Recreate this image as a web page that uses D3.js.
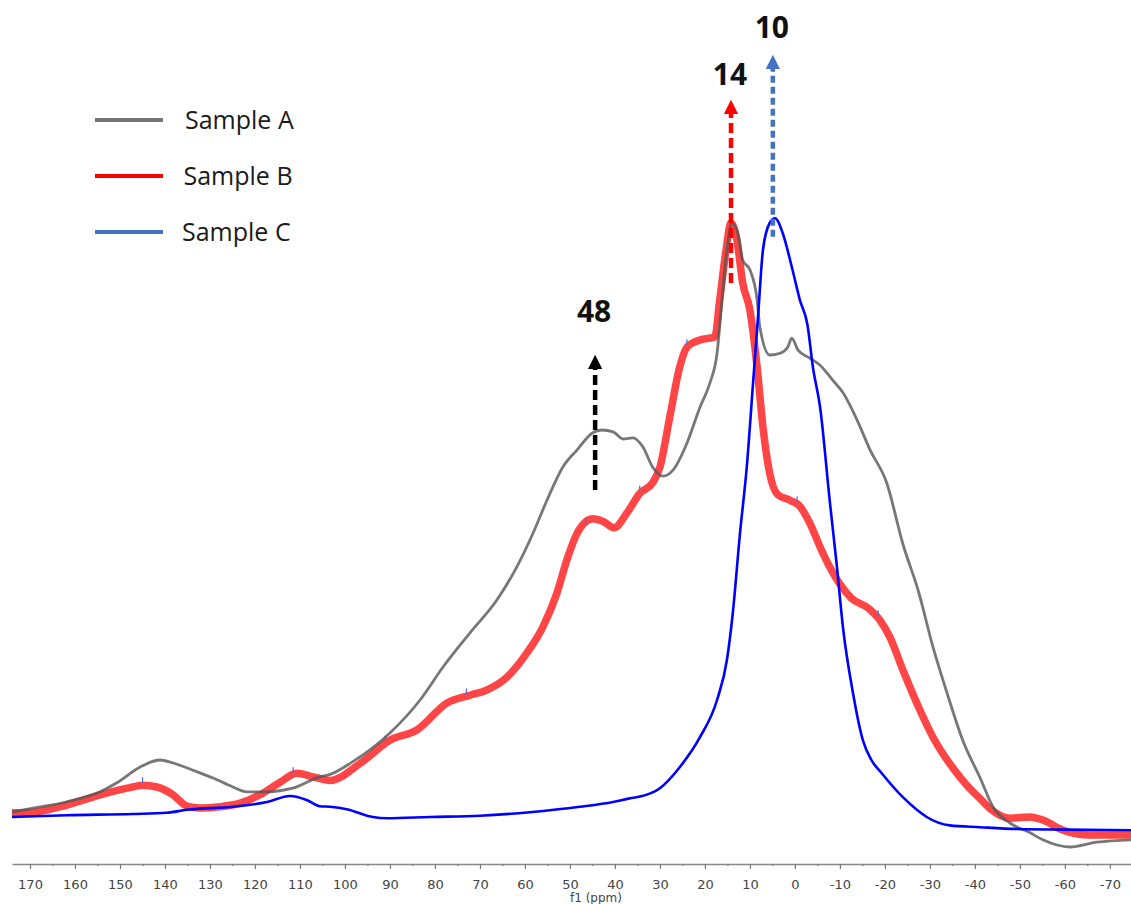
<!DOCTYPE html>
<html>
<head>
<meta charset="utf-8">
<script src="https://cdn.jsdelivr.net/npm/d3@7"></script>
<style>
  body { margin: 0; background: #fff; }
</style>
</head>
<body>
<div id="chart"></div>
<script>
// Chart size
var width = 1131;
var height = 904;

// Spectra: [chemical shift (ppm), intensity]
var sampleA = [
  [174, 1.3], [169, 2], [162, 3], [154.4, 4.7], [150.7, 6.2], [145.6, 8.8], [141.1, 10],
  [138.2, 9.5], [133.8, 8.3], [129.3, 7], [124.9, 5.5], [121.8, 4.7], [117.3, 4.7],
  [111.6, 5.3], [105.6, 7.2], [103.3, 7.6], [98.5, 9.6], [90, 14.5], [83.3, 20],
  [78.2, 25.5], [72.2, 31.2], [66.2, 36.7], [61.8, 42.2], [58.2, 47.8], [55.1, 53.3],
  [51.6, 58.8], [48.4, 61.7], [45, 64.5], [42.9, 65], [40.4, 64.7], [38.2, 63.5],
  [36, 63.7], [33.8, 62.2], [31.6, 58.8], [29.3, 57.3], [27.1, 58.3], [24, 62.8],
  [21.1, 68.8], [18.9, 72.8], [17.3, 77.8], [16.2, 86.7], [15.1, 95], [14, 99.5],
  [12.7, 97.8], [11.6, 93.3], [10, 91.7], [8.4, 86.7], [7.8, 82.2], [5.6, 77.5],
  [3.3, 77.8], [1.6, 78.8], [0.7, 80.3], [-0.7, 78.3], [-3.3, 77], [-5.6, 75.8],
  [-8.4, 73.3], [-10.7, 71.2], [-13.8, 66.7], [-16.7, 61.7], [-20.4, 56.2], [-24, 46],
  [-27.5, 38], [-30.7, 28.8], [-33.8, 21.2], [-37.3, 13.3], [-41.3, 6.8], [-44, 2.2],
  [-47.8, -0.5], [-52.2, -2.1], [-55.1, -3.3], [-61.1, -4.5], [-67.1, -3.7], [-74.7, -3.3]
];

var sampleB = [
  [174, 1.2], [169.3, 1.3], [161.8, 2.5], [154.4, 4.2], [148.4, 5.3], [144.9, 5.8],
  [141.8, 5.5], [138.2, 4.2], [135.1, 2.3], [132.2, 2], [127.8, 2.2], [123.3, 2.8],
  [118.9, 4.2], [114.4, 6.3], [110.7, 7.8], [107.1, 7.2], [103.3, 6.6], [96.5, 9.5],
  [90, 13.3], [84, 15], [77.3, 19.5], [72.2, 20.8], [68.4, 21.7], [64, 23.8],
  [59.6, 27.8], [56, 32.2], [52.9, 37.8], [50.7, 43.3], [48.4, 47.8], [44.9, 50.2],
  [42.5, 49.7], [40.2, 48.7], [37.3, 51.2], [34.4, 54.5], [31.6, 56.2], [30, 58.8],
  [27.8, 67.2], [25.6, 75.5], [24, 78.8], [21.1, 80], [17.8, 80.5], [16.7, 86.7],
  [15.3, 95], [14.2, 99.5], [12.9, 96.7], [11.6, 89.5], [10, 85], [8.4, 75.5],
  [7.1, 65.5], [5.6, 57.8], [3.8, 54.2], [1.1, 53.3], [-1.1, 52.3], [-3.3, 49.5],
  [-5.6, 45.5], [-7.5, 42.5], [-10, 39.3], [-12.5, 37], [-16.3, 35.3], [-18.9, 33.3],
  [-21.1, 30.5], [-24, 25], [-27.8, 18.3], [-30.7, 13.8], [-32.5, 11.5], [-35, 8.8],
  [-38.2, 5.8], [-41.1, 3.6], [-43.5, 1.8], [-47.8, 0.3], [-52.2, 0.5],
  [-55.1, 0], [-59.6, -1.7], [-65.6, -2.5], [-74.7, -2.5]
];

var sampleC = [
  [174, 0.5], [161.8, 0.8], [147.1, 1], [139.6, 1.2], [135.1, 1.7], [124.9, 2.2],
  [117.3, 3], [112.2, 4], [108.4, 3.3], [105.6, 2.3], [103.3, 2.2], [99.6, 1.8],
  [93.8, 0.5], [90.7, 0.3], [81.1, 0.5], [70, 0.7], [58.9, 1.3], [47.8, 2.2],
  [40.4, 3], [36.7, 3.6], [34.4, 3.9], [30, 5.3], [25.6, 8.8], [21.1, 13.8],
  [17.3, 20], [15.1, 26.7], [13.8, 34.5], [12.2, 47.8], [10.7, 58.8], [9.3, 72.8],
  [8.2, 83.8], [7.1, 95], [5.6, 99.5], [4.4, 100.3], [2.7, 97.8], [0.7, 92.2],
  [-1.1, 86.7], [-2.8, 82.5], [-4, 75.5], [-5.6, 68.8], [-7.8, 52.8], [-9.3, 42.5],
  [-10.7, 32], [-12.9, 21.2], [-15.1, 13.3], [-17, 10], [-19.3, 7.8], [-24, 3.8],
  [-27.1, 1.7], [-29.3, 0.5], [-34.4, -0.9], [-41.1, -1.2], [-49.3, -1.5],
  [-60, -1.6], [-74.7, -1.7]
];

// Peak-pick markers on Sample B (ppm)
var markersB = [145, 111.5, 91, 73, 46.5, 34.5, 24, -0.5, -18.5];

// Legend and annotations
var legendNames = ["Sample A", "Sample B", "Sample C"];
var legendColors = ["#767676", "#ff0000", "#4472c4"];
var arrowLabels = ["48", "14", "10"];
var arrowPpm = [44.4, 14.2, 4.9];
var arrowFrom = [55, 89.5, 97.2];
var arrowTo = [77.5, 120, 127.5];
var arrowLabelY = [83, 122.5, 130.3];
var arrowColors = ["#000000", "#ff0000", "#4472c4"];
var arrowDash = ["10,5", "10,5", "7,4"];

// Axis ticks
var majorTicks = d3.range(170, -71, -10);
var minorTicks = d3.range(165, -71, -10);

var svg = d3.select("#chart")
  .append("svg")
  .attr("width", width)
  .attr("height", height)
  .style("font-family", "'Open Sans', sans-serif");

// Scales
var xScale = d3.scaleLinear()
  .domain([174, -74.7])
  .range([12, 1131]);

var yScale = d3.scaleLinear()
  .domain([0, 100])
  .range([820, 220]);

var axisY = 864;

// Minor ticks
svg.append("g")
  .attr("transform", "translate(0," + axisY + ")")
  .call(d3.axisBottom(xScale).tickValues(minorTicks).tickSize(2).tickSizeOuter(0).tickFormat(""))
  .call(function (g) { g.select(".domain").remove(); })
  .selectAll("line")
  .attr("stroke", "#777")
  .attr("stroke-width", 1.5);

// Major ticks + labels (plain hyphen for negatives)
var xAxis = svg.append("g")
  .attr("transform", "translate(0," + axisY + ")")
  .call(d3.axisBottom(xScale)
    .tickValues(majorTicks)
    .tickSize(5)
    .tickSizeOuter(0)
    .tickPadding(11)
    .tickFormat(function (d) { return String(d); }));

xAxis.select(".domain")
  .attr("stroke", "#888")
  .attr("stroke-width", 1.5);
xAxis.selectAll(".tick line")
  .attr("stroke", "#777")
  .attr("stroke-width", 1.2);
xAxis.selectAll("text")
  .style("font-family", "'DejaVu Sans', sans-serif")
  .style("font-size", "13px")
  .style("fill", "#444");

svg.append("text")
  .attr("x", 596)
  .attr("y", 902)
  .attr("text-anchor", "middle")
  .style("font-family", "'DejaVu Sans', sans-serif")
  .style("font-size", "12px")
  .style("fill", "#444")
  .text("f1 (ppm)");

// Line generator
var line = d3.line()
  .x(function (d) { return xScale(d[0]); })
  .y(function (d) { return yScale(d[1]); })
  .curve(d3.curveMonotoneX);

// Sample B (thick red)
svg.append("path")
  .datum(sampleB)
  .attr("fill", "none")
  .attr("stroke", "#ff2b2b")
  .attr("stroke-opacity", 0.88)
  .attr("stroke-width", 7.5)
  .attr("stroke-linejoin", "round")
  .attr("d", line);

// Small peak markers on Sample B
function interp(data, ppm) {
  for (var i = 0; i < data.length - 1; i++) {
    var a = data[i], b = data[i + 1];
    if (ppm <= a[0] && ppm >= b[0]) {
      var t = (a[0] - ppm) / (a[0] - b[0]);
      return a[1] + t * (b[1] - a[1]);
    }
  }
  return 0;
}

svg.selectAll(".markB")
  .data(markersB)
  .enter().append("line")
  .attr("class", "markB")
  .attr("x1", function (d) { return xScale(d); })
  .attr("x2", function (d) { return xScale(d); })
  .attr("y1", function (d) { return yScale(interp(sampleB, d)) - 2; })
  .attr("y2", function (d) { return yScale(interp(sampleB, d)) - 8; })
  .attr("stroke", "#5b6fd6")
  .attr("stroke-width", 1.3);

// Sample A (gray)
svg.append("path")
  .datum(sampleA)
  .attr("fill", "none")
  .attr("stroke", "#555")
  .attr("stroke-opacity", 0.8)
  .attr("stroke-width", 2.8)
  .attr("d", line);

// Sample C (blue)
svg.append("path")
  .datum(sampleC)
  .attr("fill", "none")
  .attr("stroke", "#0000ff")
  .attr("stroke-width", 2.6)
  .attr("d", line);

// Dashed arrows with labels
var defs = svg.append("defs");
arrowColors.forEach(function (c, i) {
  defs.append("marker")
    .attr("id", "head" + i)
    .attr("viewBox", "0 0 10 10")
    .attr("refX", 5)
    .attr("refY", 5)
    .attr("markerWidth", 3.2)
    .attr("markerHeight", 3.2)
    .attr("orient", "auto")
    .append("path")
    .attr("d", "M0,0 L10,5 L0,10 z")
    .attr("fill", c);
});

arrowLabels.forEach(function (lab, i) {
  svg.append("line")
    .attr("x1", xScale(arrowPpm[i]))
    .attr("x2", xScale(arrowPpm[i]))
    .attr("y1", yScale(arrowFrom[i]))
    .attr("y2", yScale(arrowTo[i]) + 7)
    .attr("stroke", arrowColors[i])
    .attr("stroke-width", 4.5)
    .attr("stroke-dasharray", arrowDash[i])
    .attr("marker-end", "url(#head" + i + ")");

  svg.append("text")
    .attr("x", xScale(arrowPpm[i]) - 1)
    .attr("y", yScale(arrowLabelY[i]))
    .attr("text-anchor", "middle")
    .style("font-family", "'Open Sans', sans-serif")
    .style("font-weight", "bold")
    .style("font-size", "30px")
    .style("fill", "#111")
    .text(lab);
});

// Legend
var legend = svg.selectAll(".legend")
  .data(legendNames)
  .enter().append("g")
  .attr("class", "legend")
  .attr("transform", function (d, i) { return "translate(0," + (120 + i * 56) + ")"; });

legend.append("line")
  .attr("x1", 95)
  .attr("x2", 163)
  .attr("stroke", function (d, i) { return legendColors[i]; })
  .attr("stroke-width", 4);

legend.append("text")
  .attr("x", function (d, i) { return 185 - i * 1.5; })
  .attr("y", 9)
  .style("font-size", "25px")
  .style("fill", "#1a1a1a")
  .text(function (d) { return d; });
</script>
</body>
</html>
